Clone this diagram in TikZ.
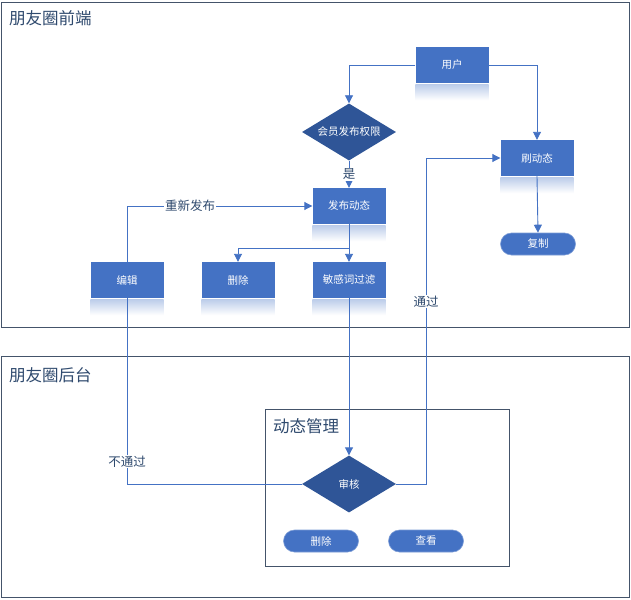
\documentclass[tikz,border=0pt]{standalone}
\usepackage{fontspec}
\setmainfont{Noto Sans CJK SC}
\usetikzlibrary{shapes.geometric,arrows.meta}
\definecolor{boxblue}{HTML}{4472C4}
\definecolor{darkblue}{HTML}{2F5597}
\definecolor{framegray}{HTML}{44546A}
\definecolor{titletext}{HTML}{2F4A6E}
\tikzset{
  box/.style={rectangle, fill=boxblue, text=white, minimum width=73pt, minimum height=36pt, inner sep=0pt, font=\fontsize{10.5}{12}\selectfont},
  decide/.style={diamond, aspect=1.65, fill=darkblue, text=white, minimum width=94pt, minimum height=57pt, inner sep=0pt, font=\fontsize{10.5}{12}\selectfont},
  pill/.style={rectangle, rounded corners=11pt, fill=boxblue, draw=boxblue!70!white, line width=0.6pt, text=white, minimum width=75pt, minimum height=22pt, inner sep=0pt, font=\fontsize{10.5}{12}\selectfont},
  panel/.style={draw=framegray, line width=0.8pt},
  paneltitle/.style={anchor=west, text=titletext, inner sep=0pt, font=\fontsize{16.5}{18}\selectfont},
  wire/.style={draw=boxblue, line width=0.9pt},
  arr/.style={wire, -{Triangle[length=8pt,width=8pt]}},
  lbl/.style={fill=white, text=titletext, inner sep=1pt, font=\fontsize{12.5}{14}\selectfont},
  glow/.style={top color=boxblue!35, bottom color=white, draw=none},
}
\begin{document}
\begin{tikzpicture}[x=1pt, y=-1pt]
\fill[white] (0,0) rectangle (631,599);
\useasboundingbox (0,0) rectangle (631,599);

% panels
\draw[panel] (1,2) rectangle (629,327);
\draw[panel] (1,356) rectangle (629,597);
\draw[panel] (265,409) rectangle (509,566);
\node[paneltitle] (front) at (9,18) {朋友圈前端};
\node[paneltitle] (back) at (9,375) {朋友圈后台};
\node[paneltitle] (manage) at (273,426) {动态管理};

% front end
\node[box] (user) at (452,65) {用户};
\node[decide] (vip) at (349,132) {会员发布权限};
\node[box] (pub) at (349,206) {发布动态};
\node[box] (refresh) at (537,158) {刷动态};
\node[pill] (copy) at (538,244) {复制};
\node[box] (edit) at (127,280) {编辑};
\node[box] (del) at (238,280) {删除};
\node[box] (filter) at (349,280) {敏感词过滤};

% back end
\node[decide] (audit) at (349,484) {审核};
\node[pill] (bdel) at (321,541) {删除};
\node[pill] (view) at (426,541) {查看};

% reflections under the boxes
\foreach \n in {user,pub,refresh,edit,del,filter}
  \shade[glow] ([yshift=-1.5pt]\n.south west) rectangle ([yshift=-17pt]\n.south east);

\coordinate (split) at (349,248);
\coordinate (turn) at (426,158);

\draw[arr] (user.west) -| (vip.north);
\draw[arr] (user.east) -| (refresh.north);
\draw[arr] (vip.south) -- node[lbl] {是} (pub.north);
\draw[arr] (pub.south) -- (filter.north);
\draw[arr] (split) -| (del.north);
\draw[arr] (edit.north) |- node[lbl, pos=0.67] {重新发布} (pub.west);
\draw[arr] (refresh.south) -- (copy.north);
\draw[arr] (filter.south) -- (audit.north);
\draw[wire] (audit.west) -| node[lbl, pos=0.56] {不通过} (edit.south);
\draw[arr] (audit.east) -| node[lbl, pos=0.78] {通过} (turn) -- (refresh.west);
\end{tikzpicture}
\end{document}
